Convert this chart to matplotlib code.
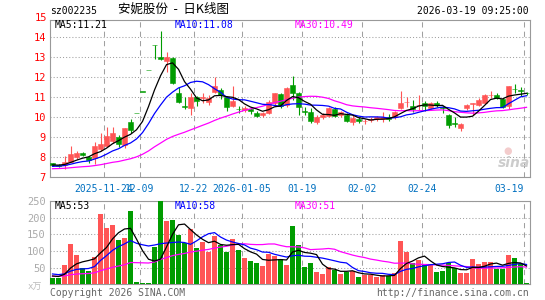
import numpy as np
import pandas as pd
import matplotlib
matplotlib.use('Agg')
import matplotlib.pyplot as plt

# ---------------- data ----------------
open_ = [7.70, 7.62, 7.62, 7.78, 8.00, 8.22, 8.02, 7.95, 8.40, 8.55,
         8.80, 9.00, 8.62, 9.75, 10.22, 11.28, 12.37, 13.60, 13.00, 12.80,
         12.98, 11.23, 10.55, 10.45, 11.00, 10.97, 10.75, 11.28, 11.37, 11.00,
         10.55, 10.42, 10.38, 10.42, 10.23, 10.12, 10.20, 10.70, 11.17, 10.62,
         11.60, 11.22, 10.30, 10.25, 9.75, 10.00, 10.07, 10.42, 10.13, 10.12,
         9.78, 9.90, 9.80, 9.85, 9.92, 9.92, 10.00, 10.00, 10.48, 10.75,
         10.57, 10.60, 10.73, 10.48, 10.72, 10.50, 10.12, 9.73, 9.47, 10.45,
         10.67, 10.62, 10.73, 11.10, 11.12, 10.90, 10.55, 11.42, 11.35, 11.22]
high = [7.72, 7.65, 8.08, 8.57, 8.33, 8.28, 8.05, 8.78, 9.20, 9.53,
        9.50, 9.12, 9.47, 9.92, 10.22, 11.28, 12.37, 13.60, 14.33, 13.28,
        13.00, 11.53, 11.00, 11.23, 11.05, 11.20, 11.12, 12.00, 11.45, 11.05,
        11.57, 10.57, 10.57, 10.53, 10.33, 10.28, 10.87, 11.23, 11.23, 11.53,
        12.07, 11.28, 10.53, 10.45, 10.12, 10.20, 10.53, 10.53, 10.33, 10.20,
        10.12, 10.00, 9.90, 10.03, 10.08, 10.25, 10.17, 10.32, 11.32, 11.00,
        10.87, 11.12, 10.83, 10.78, 10.83, 10.55, 10.17, 10.03, 9.73, 10.65,
        10.73, 10.95, 11.17, 11.33, 11.23, 10.95, 11.58, 11.67, 11.50, 11.28]
low = [7.55, 7.50, 7.40, 7.75, 7.90, 8.05, 7.73, 7.67, 8.30, 8.50,
       8.70, 8.53, 8.45, 9.20, 10.22, 11.28, 12.37, 12.90, 12.88, 12.25,
       11.67, 10.70, 10.40, 10.12, 10.57, 10.72, 10.62, 11.20, 10.90, 10.33,
       10.50, 10.20, 10.28, 10.17, 10.00, 10.00, 10.17, 10.62, 10.45, 10.53,
       10.87, 10.12, 10.12, 9.70, 9.67, 9.90, 10.03, 10.00, 10.00, 9.78,
       9.62, 9.70, 9.67, 9.78, 9.83, 9.78, 9.83, 9.93, 10.40, 10.50,
       10.28, 10.37, 10.33, 10.40, 10.53, 10.23, 9.45, 9.53, 9.33, 10.37,
       10.12, 10.57, 10.67, 10.95, 10.93, 10.45, 10.40, 11.20, 11.07, 11.12]
close = [7.60, 7.55, 7.78, 8.15, 8.20, 8.10, 7.88, 8.57, 8.67, 9.07,
         9.20, 8.65, 9.45, 9.37, 10.22, 11.28, 12.37, 13.60, 12.92, 13.00,
         11.72, 10.75, 10.53, 11.03, 10.83, 11.00, 10.95, 11.57, 11.12, 10.53,
         10.83, 10.40, 10.47, 10.33, 10.08, 10.23, 10.78, 11.20, 10.55, 11.45,
         11.20, 10.50, 10.28, 9.83, 10.03, 10.10, 10.45, 10.08, 10.25, 9.83,
         9.95, 9.80, 9.82, 9.92, 10.00, 10.00, 9.93, 10.28, 10.73, 10.78,
         10.40, 10.62, 10.57, 10.70, 10.62, 10.48, 9.62, 9.68, 9.65, 10.62,
         10.70, 10.87, 11.12, 11.13, 10.97, 10.50, 11.57, 11.40, 11.33, 11.20]
volume = [20, 20, 58, 121, 88, 50, 40, 83, 211, 169,
          178, 133, 139, 221, 7, 5, 4, 112, 250, 190,
          193, 148, 123, 167, 110, 127, 98, 145, 118, 98,
          136, 103, 80, 70, 64, 56, 91, 85, 75, 58,
          175, 118, 52, 64, 37, 31, 52, 44, 31, 37,
          39, 22, 27, 27, 22, 27, 24, 34, 130, 98,
          63, 72, 60, 58, 37, 40, 63, 48, 33, 34,
          76, 61, 67, 67, 47, 45, 88, 80, 60, 3]
# earlier sessions (estimated from where the MA lines start)
prior_close = [7.30, 7.35, 7.32, 7.40, 7.38, 7.36, 7.42, 7.35, 7.30, 7.38,
               7.40, 7.36, 7.34, 7.42, 7.38, 7.35, 7.40, 7.38, 7.36, 7.42,
               7.45, 7.50, 7.48, 7.46, 7.51, 7.58, 7.62, 7.65, 7.63]
prior_volume = [18, 22, 20, 25, 19, 21, 17, 23, 20, 22,
                19, 24, 18, 21, 20, 22, 19, 20, 21, 19,
                40, 35, 38, 36, 36, 28, 25, 27, 25]
tick_pos = [9, 15, 24, 32, 42, 52, 62, 79]
tick_labels = ['2025-11-24', '12-09', '12-22', '2026-01-05', '01-19',
               '02-02', '02-24', '03-19']
price_ticks = [7, 8, 9, 10, 11, 12, 13, 14]
vol_ticks = [50, 100, 150, 200, 250]

# ---------------- figure ----------------
W, H = 545, 300
fig = plt.figure(figsize=(W / 100, H / 100), dpi=100)
fig.patch.set_facecolor('white')


def fx(x):
    return x / W


def fy(y):
    return 1 - y / H


MONO = 'DejaVu Sans Mono'
RED = '#ff5555'
GREEN = '#009c00'
GRID = '#a0a0a0'
n = len(close)
x = np.arange(n) + 0.42
o = np.array(open_)
c = np.array(close)
cols = [RED if c[i] > o[i] else GREEN for i in range(n)]

axp = fig.add_axes([fx(50), fy(177.3), 480 / W, (177.3 - 20) / H])
axv = fig.add_axes([fx(50), fy(284.3), 480 / W, (284.3 - 201) / H])

for ax in (axp, axv):
    ax.set_xlim(0, n)
    ax.set_axisbelow(True)
    for sp in ax.spines.values():
        sp.set_color('#999999')
        sp.set_linewidth(0.8)
    ax.set_xticks(tick_pos)
    ax.xaxis.grid(True, linestyle=(0, (5, 4)), color=GRID, linewidth=0.75)
    ax.yaxis.grid(True, linestyle=(0, (1, 2)), color=GRID, linewidth=0.75)
    ax.tick_params(length=0)

# price panel
axp.vlines(x, low, high, colors=cols, linewidth=0.8, zorder=2)
axp.bar(x, np.maximum(np.abs(c - o), 0.015), bottom=np.minimum(o, c), width=0.8,
        color=cols, edgecolor=cols, linewidth=0.4, zorder=3)
full_c = pd.Series(prior_close + close)
np_ = len(prior_close)
for win, colr in ((30, '#ff00ff'), (10, '#0000ff'), (5, 'black')):
    ma = full_c.rolling(win).mean().iloc[np_:].to_numpy()
    axp.plot(x, ma, color=colr, linewidth=0.9, zorder=4)
axp.set_ylim(7, 7 + 157.3 / 20)
axp.set_yticks(price_ticks)
axp.set_yticklabels([str(t) for t in price_ticks], color='#ff0000',
                    fontfamily=MONO, fontsize=7.5)
axp.tick_params(axis='y', pad=3)
axp.set_xticklabels(tick_labels, color='#0070c0', fontfamily=MONO, fontsize=7)
axp.tick_params(axis='x', pad=5)
xl = axp.get_xticklabels()
xl[-1].set_ha('right')
fig.text(fx(47), fy(17.8), '15', color='#ff0000', fontfamily=MONO, fontsize=7.5,
         ha='right', va='center')

# volume panel
axv.bar(x, volume, width=0.8, color=cols, linewidth=0, zorder=3)
full_v = pd.Series(prior_volume + volume, dtype=float)
nv = len(prior_volume)
for win, colr in ((30, '#ff00ff'), (10, '#0000ff'), (5, 'black')):
    ma = full_v.rolling(win).mean().iloc[nv:].to_numpy()
    axv.plot(x, ma, color=colr, linewidth=0.9, zorder=4)
axv.set_ylim(0, 250)
axv.set_yticks(vol_ticks)
axv.set_yticklabels([str(t) for t in vol_ticks], color='#aaaaaa',
                    fontfamily=MONO, fontsize=7.5)
axv.tick_params(axis='y', pad=3)
axv.set_xticklabels([])

# header texts
fig.text(fx(50), fy(11), 'sz002235', fontfamily=MONO, fontsize=7, va='center')
fig.text(fx(118), fy(9.5), '安妮股份  -  日K线图', fontfamily=['Noto Sans CJK SC'],
         fontsize=9, va='center')
fig.text(fx(529), fy(11), '2026-03-19 09:25:00', fontfamily=MONO, fontsize=7,
         ha='right', va='center')
for xx, txt, colr in ((55, 'MA5:11.21', 'black'), (175, 'MA10:11.08', '#0000ff'),
                      (295, 'MA30:10.49', '#ff00ff')):
    fig.text(fx(xx), fy(25), txt, color=colr, fontfamily=MONO, fontsize=7, va='center')
for xx, txt, colr in ((55, 'MA5:53', 'black'), (175, 'MA10:58', '#0000ff'),
                      (295, 'MA30:51', '#ff00ff')):
    fig.text(fx(xx), fy(206), txt, color=colr, fontfamily=MONO, fontsize=7, va='center')

# footer texts
fig.text(fx(28), fy(287), 'x万', color='#bbbbbb', fontfamily=[MONO, 'Noto Sans CJK SC'],
         fontsize=6.5, va='center')
fig.text(fx(50), fy(293), 'Copyright 2026 SINA.COM', color='#666666',
         fontfamily=MONO, fontsize=7, va='center')
fig.text(fx(529), fy(293), 'http://finance.sina.com.cn', color='#666666',
         fontfamily=MONO, fontsize=7, ha='right', va='center')

# watermark
fig.text(fx(514), fy(163), 'sina', color='#cccccc', fontsize=10, style='italic',
         fontweight='bold', ha='center', va='center')
fig.text(fx(508), fy(151), '●', color='#f3cccc', fontsize=7, ha='center', va='center')

fig.savefig('out.png', dpi=100)
